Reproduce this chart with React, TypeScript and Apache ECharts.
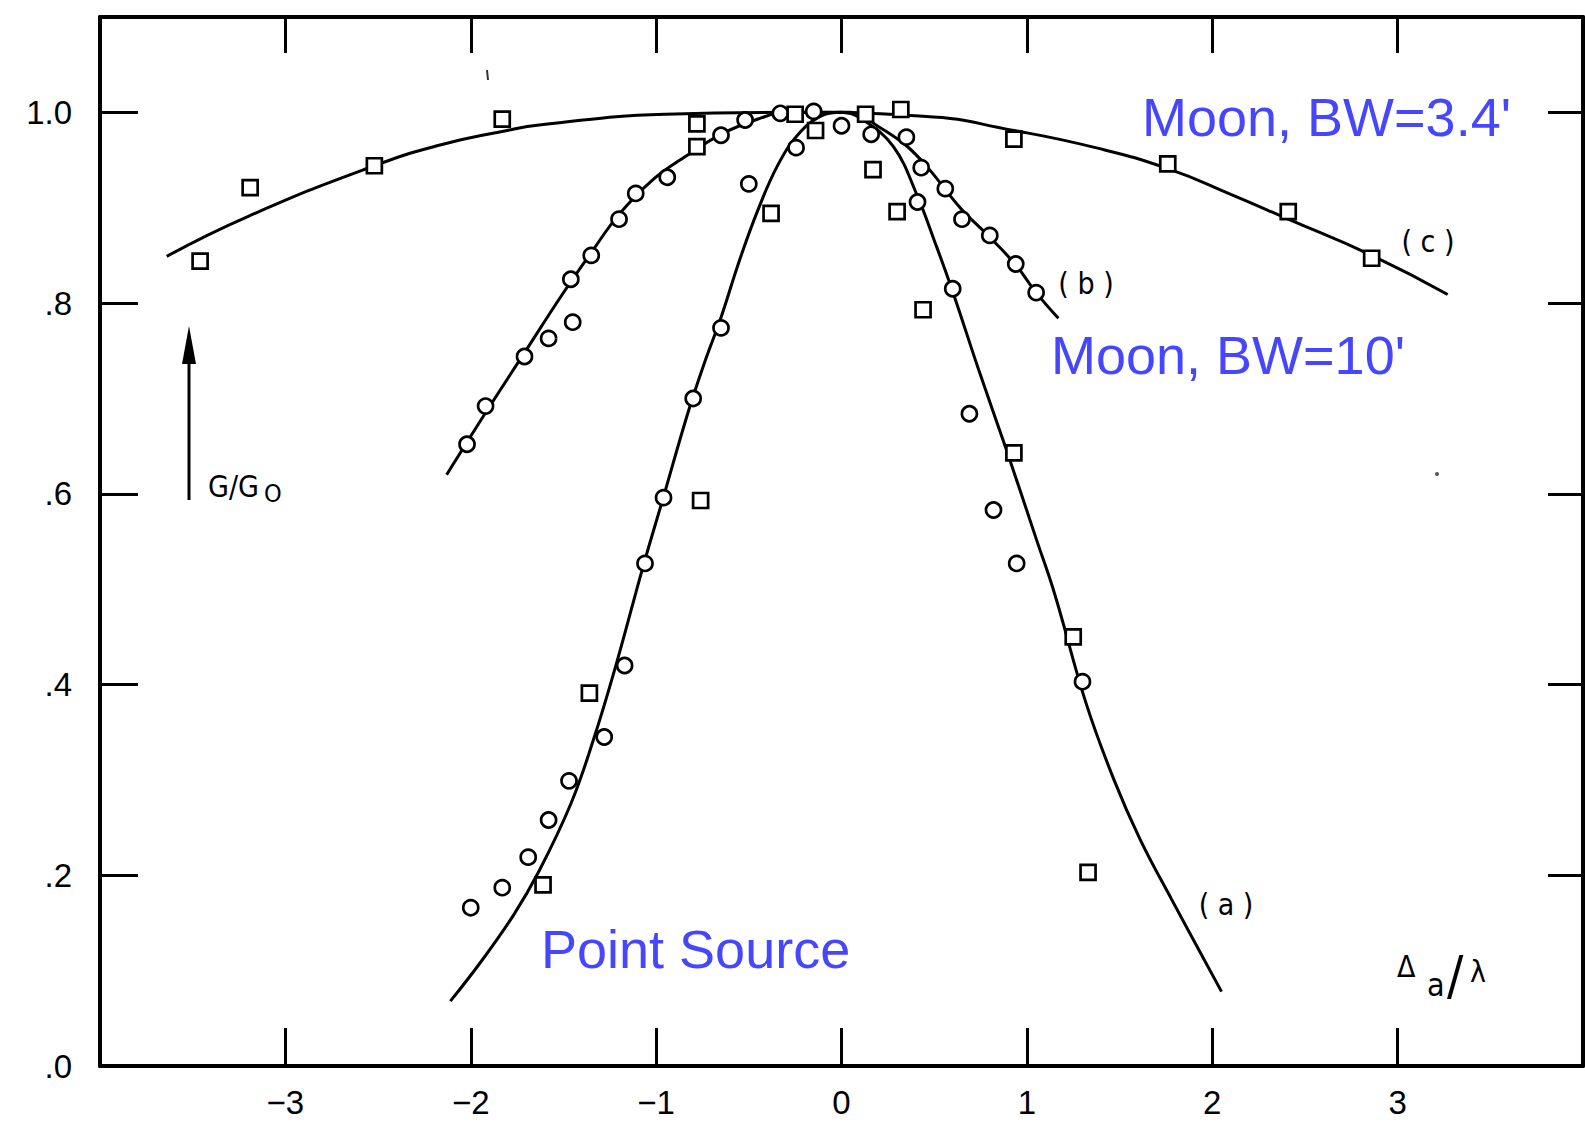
import React, { useEffect, useRef } from "react";
import * as echarts from "echarts";

// ---- axis ticks ----
const xTickValues = [-3, -2, -1, 0, 1, 2, 3];
const yTickValues = [0, 0.2, 0.4, 0.6, 0.8, 1.0];

// ---- fitted curves (x = Δa/λ, y = G/G0) ----
const curvePointSource: number[][] = [
  [-2.11, 0.068], [-1.95, 0.108], [-1.77, 0.158], [-1.63, 0.205], [-1.46, 0.275],
  [-1.34, 0.341], [-1.22, 0.418], [-1.07, 0.524], [-0.96, 0.597], [-0.83, 0.684],
  [-0.74, 0.737], [-0.65, 0.785], [-0.55, 0.845], [-0.45, 0.898], [-0.34, 0.946],
  [-0.22, 0.98], [-0.1, 0.997], [0.0, 1.0], [0.11, 0.993], [0.28, 0.964],
  [0.41, 0.912], [0.5, 0.866], [0.6, 0.812], [0.74, 0.73], [0.89, 0.646],
  [1.05, 0.553], [1.15, 0.495], [1.32, 0.38], [1.47, 0.3], [1.61, 0.238],
  [1.78, 0.175], [2.05, 0.078],
];
const curveMoon10: number[][] = [
  [-2.13, 0.62], [-1.92, 0.685], [-1.71, 0.748], [-1.51, 0.808], [-1.35, 0.853],
  [-1.2, 0.893], [-1.02, 0.929], [-0.84, 0.954], [-0.65, 0.977], [-0.45, 0.993],
  [-0.3, 1.0], [0.05, 1.0], [0.2, 0.985], [0.35, 0.965], [0.47, 0.941],
  [0.64, 0.9], [0.8, 0.869], [0.94, 0.84], [1.05, 0.811], [1.17, 0.784],
];
const curveMoon34: number[][] = [
  [-3.64, 0.849], [-3.2, 0.891], [-2.52, 0.944], [-2.16, 0.966], [-1.83, 0.98],
  [-1.62, 0.987], [-0.95, 0.998], [-0.3, 1.0], [0.44, 0.996], [0.93, 0.981],
  [1.37, 0.963], [1.76, 0.941], [2.1, 0.914], [2.41, 0.888], [2.86, 0.85],
  [3.27, 0.809],
];

// ---- measured points ----
const circlesMoon10: number[][] = [
  [-2.02, 0.652], [-1.92, 0.692], [-1.71, 0.744], [-1.58, 0.763], [-1.45, 0.78],
  [-1.46, 0.825], [-1.35, 0.85], [-1.2, 0.888], [-1.11, 0.915], [-0.94, 0.932],
  [-0.65, 0.976], [-0.52, 0.992], [-0.33, 0.999], [-0.15, 1.001], [0.0, 0.986],
  [0.16, 0.977], [0.35, 0.974], [0.43, 0.942], [0.56, 0.92], [0.65, 0.888],
  [0.8, 0.871], [0.94, 0.841], [1.05, 0.811],
];
const circlesPointSource: number[][] = [
  [-0.5, 0.925], [-0.245, 0.963], [-0.65, 0.774], [-0.8, 0.7], [-0.96, 0.596],
  [-1.06, 0.527], [-1.17, 0.42], [-1.28, 0.345], [-1.47, 0.299], [-1.58, 0.258],
  [-1.69, 0.219], [-1.83, 0.187], [-2.0, 0.166], [0.41, 0.906], [0.6, 0.815],
  [0.69, 0.684], [0.82, 0.583], [0.945, 0.527], [1.3, 0.403],
];
const squaresMoon34: number[][] = [
  [-3.46, 0.844], [-3.19, 0.921], [-2.52, 0.944], [-1.83, 0.993], [-0.78, 0.988],
  [-0.25, 0.998], [0.13, 0.998], [0.32, 1.003], [0.93, 0.972], [1.76, 0.946],
  [2.41, 0.896], [2.86, 0.847],
];
const squaresPointSource: number[][] = [
  [-0.78, 0.964], [-0.14, 0.981], [0.17, 0.94], [0.3, 0.896], [-0.38, 0.894],
  [0.44, 0.793], [-0.76, 0.593], [-1.36, 0.391], [-1.61, 0.19], [0.93, 0.643],
  [1.25, 0.45], [1.33, 0.203],
];

const FONT = "'Liberation Sans', Arial, Helvetica, sans-serif";
const NARROW = "'Liberation Sans Narrow', 'DejaVu Sans Condensed', 'Liberation Sans', sans-serif";
const BLUE = "#4646ff";

export default function App() {
  const ref = useRef<HTMLDivElement>(null);
  useEffect(() => {
    const chart = echarts.init(ref.current!, null, { renderer: "svg" });
    const axisLine = { show: true, onZero: false, lineStyle: { color: "#000", width: 4 } };
    const tick = { show: true, inside: true, length: 38, lineStyle: { color: "#000", width: 3 } };
    const xFmt = (v: number) => {
      const r = Math.round(v);
      if (Math.abs(v - r) > 1e-6 || r <= -4 || r >= 4) return "";
      return r < 0 ? "\u2212" + -r : String(r);
    };
    const yFmt = (v: number) => {
      if (v > 1.05) return "";
      const t = Math.round(v * 10);
      if (Math.abs(v * 10 - t) > 1e-6) return "";
      return t === 10 ? "1.0" : "." + t;
    };
    const lineSeries = (name: string, data: number[][], smooth: number) => ({
      type: "line",
      name,
      data,
      smooth,
      showSymbol: false,
      symbol: "none",
      lineStyle: { color: "#000", width: 3 },
      z: 2,
      silent: true,
    });
    const markerSeries = (name: string, data: number[][], symbol: string) => ({
      type: "scatter",
      name,
      data,
      symbol,
      symbolSize: 15,
      itemStyle: { color: "#fff", borderColor: "#000", borderWidth: 2.7, opacity: 1 },
      z: 3,
    });
    chart.setOption({
      animation: false,
      backgroundColor: "#fff",
      grid: { left: 100, right: 2, top: 17, bottom: 56, containLabel: false },
      xAxis: [
        {
          type: "value", position: "bottom", min: -4, max: 4, interval: 1,
          axisLine,
          axisTick: { ...tick, customValues: xTickValues },
          axisLabel: { formatter: xFmt, customValues: xTickValues, margin: 20, fontSize: 33, fontFamily: FONT, color: "#000" },
          splitLine: { show: false },
        },
        {
          type: "value", position: "top", min: -4, max: 4, interval: 1,
          axisLine,
          axisTick: { ...tick, length: 36, customValues: xTickValues },
          axisLabel: { show: false },
          splitLine: { show: false },
        },
      ],
      yAxis: [
        {
          type: "value", position: "left", min: 0, max: 1.1, interval: 0.2,
          axisLine,
          axisTick: { ...tick, customValues: yTickValues },
          axisLabel: { formatter: yFmt, customValues: yTickValues, margin: 28, fontSize: 33, fontFamily: FONT, color: "#000" },
          splitLine: { show: false },
        },
        {
          type: "value", position: "right", min: 0, max: 1.1, interval: 0.2,
          axisLine,
          axisTick: { ...tick, length: 35, customValues: yTickValues },
          axisLabel: { show: false },
          splitLine: { show: false },
        },
      ],
      series: [
        lineSeries("Point Source curve (a)", curvePointSource, 0.4),
        lineSeries("Moon BW=10' curve (b)", curveMoon10, 0.4),
        lineSeries("Moon BW=3.4' curve (c)", curveMoon34, 0.5),
        markerSeries("Moon BW=10' circles", circlesMoon10, "circle"),
        markerSeries("Point Source circles", circlesPointSource, "circle"),
        markerSeries("Moon BW=3.4' squares", squaresMoon34, "rect"),
        markerSeries("Point Source squares", squaresPointSource, "rect"),
      ],
      graphic: [
        { type: "text", x: 1142, y: 117, style: { text: "Moon, BW=3.4'", fill: BLUE, font: `54px ${FONT}`, align: "left", verticalAlign: "middle" } },
        { type: "text", x: 1051, y: 355, style: { text: "Moon, BW=10'", fill: BLUE, font: `54px ${FONT}`, align: "left", verticalAlign: "middle" } },
        { type: "text", x: 541, y: 949, style: { text: "Point Source", fill: BLUE, font: `54px ${FONT}`, align: "left", verticalAlign: "middle" } },
        { type: "text", x: 1428, y: 241, style: { text: "( c )", fill: "#000", font: `30px ${NARROW}`, align: "center", verticalAlign: "middle" } },
        { type: "text", x: 1086, y: 283, style: { text: "( b )", fill: "#000", font: `30px ${NARROW}`, align: "center", verticalAlign: "middle" } },
        { type: "text", x: 1226, y: 904, style: { text: "( a )", fill: "#000", font: `30px ${NARROW}`, align: "center", verticalAlign: "middle" } },
        { type: "line", shape: { x1: 189, y1: 500, x2: 189, y2: 355 }, style: { stroke: "#000", lineWidth: 3 } },
        { type: "polygon", shape: { points: [[189, 326], [182, 364], [196, 364]] }, style: { fill: "#000" } },
        { type: "text", x: 208, y: 486, style: { text: "G/G", fill: "#000", font: `30px ${NARROW}`, align: "left", verticalAlign: "middle" } },
        { type: "text", x: 264, y: 493, style: { text: "O", fill: "#000", font: `25px ${NARROW}`, align: "left", verticalAlign: "middle" } },
        { type: "text", x: 1397, y: 966, style: { text: "\u0394", fill: "#000", font: `30px ${NARROW}`, align: "left", verticalAlign: "middle" } },
        { type: "text", x: 1427, y: 985, style: { text: "a", fill: "#000", font: `32px ${NARROW}`, align: "left", verticalAlign: "middle" } },
        { type: "text", x: 1447, y: 975, style: { text: "/", fill: "#000", font: `54px ${NARROW}`, align: "left", verticalAlign: "middle" } },
        { type: "text", x: 1470, y: 971, style: { text: "\u03bb", fill: "#000", font: `30px ${NARROW}`, align: "left", verticalAlign: "middle" } },
        { type: "line", shape: { x1: 487, y1: 70, x2: 488, y2: 80 }, style: { stroke: "#333", lineWidth: 2 } },
        { type: "circle", shape: { cx: 1437, cy: 474, r: 2 }, style: { fill: "#555" } },
      ],
    });
    return () => chart.dispose();
  }, []);
  return <div ref={ref} style={{ position: "fixed", left: 0, top: 0, width: 1585, height: 1122, background: "#fff" }} />;
}
